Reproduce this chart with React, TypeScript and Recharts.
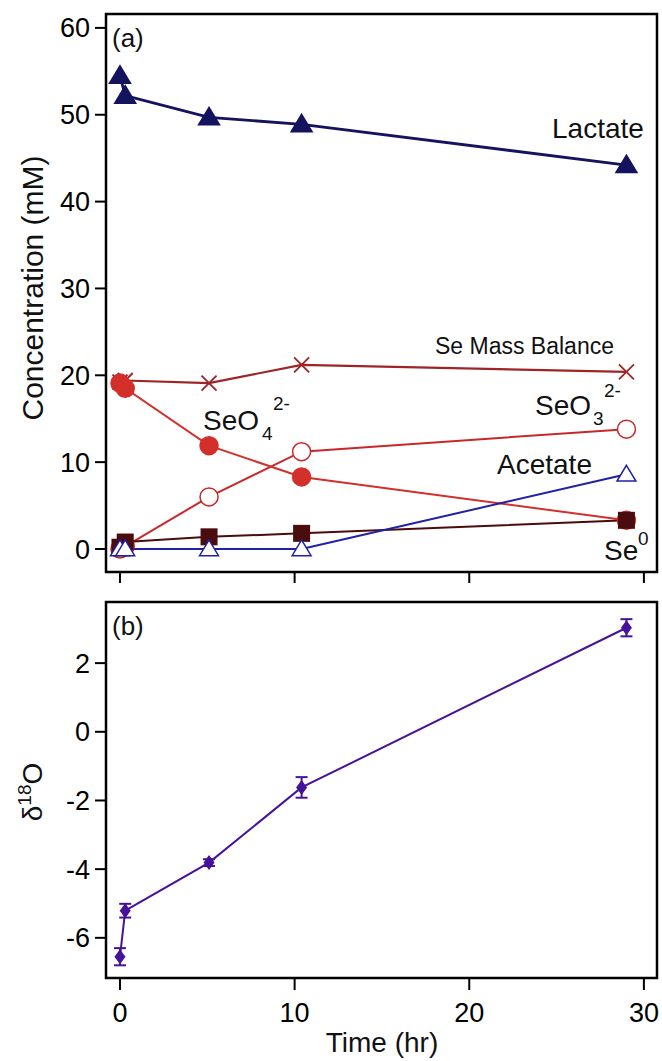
import React from 'react';
import { LineChart, Line, XAxis, YAxis, ReferenceArea, ErrorBar } from 'recharts';

// sampling times (hr)
const times = [0, 0.3, 5.1, 10.4, 29];

// panel (a) concentrations, mM
const lactate = [54.5, 52.2, 49.7, 48.9, 44.2];
const massBalance = [19.2, 19.4, 19.1, 21.2, 20.4];
const selenate = [19.1, 18.5, 11.9, 8.3, 3.3];
const selenite = [0, 0.3, 6.0, 11.2, 13.8];
const acetate = [0, 0, 0, 0, 8.6];
const seZero = [0.2, 0.8, 1.4, 1.8, 3.3];

// panel (b) delta 18O with error
const delta18O = [-6.55, -5.21, -3.81, -1.62, 3.03];
const delta18OErr = [0.25, 0.2, 0.1, 0.3, 0.25];

const timeTicks = [0, 10, 20, 30];
const concTicks = [0, 10, 20, 30, 40, 50, 60];
const deltaTicks = [-6, -4, -2, 0, 2];

const topData = times.map((t, i) => ({
  t,
  lactate: lactate[i],
  massBalance: massBalance[i],
  selenate: selenate[i],
  selenite: selenite[i],
  acetate: acetate[i],
  seZero: seZero[i],
}));

const bottomData = times.map((t, i) => ({ t, d18O: delta18O[i], err: delta18OErr[i] }));

const FONT = '"Liberation Sans", Arial, sans-serif';
const X_DOMAIN: [number, number] = [-0.8, 30.75];
const TOP_Y: [number, number] = [-2.65, 61.6];
const BOT_Y: [number, number] = [-7.17, 3.78];

const C = {
  lactate: '#15135e',
  mass: '#9e2426',
  selenate: '#d3302b',
  selenite: '#c8282a',
  acetate: '#2020a8',
  seZero: '#4a0c0c',
  delta: '#46129a',
};

// marker shapes
const triangle = (fill: string, stroke: string, s = 10, sw = 1.5) => (p: any) => {
  const { cx, cy, index } = p;
  if (cx == null || cy == null) return <g key={index} />;
  const pts = `${cx},${cy - s} ${cx + s * 1.05},${cy + s * 0.75} ${cx - s * 1.05},${cy + s * 0.75}`;
  return <polygon key={index} points={pts} fill={fill} stroke={stroke} strokeWidth={sw} />;
};

const circle = (fill: string, stroke: string, r = 9) => (p: any) => {
  const { cx, cy, index } = p;
  if (cx == null || cy == null) return <g key={index} />;
  return <circle key={index} cx={cx} cy={cy} r={r} fill={fill} stroke={stroke} strokeWidth={1.5} />;
};

const square = (fill: string, s = 8.5) => (p: any) => {
  const { cx, cy, index } = p;
  if (cx == null || cy == null) return <g key={index} />;
  return <rect key={index} x={cx - s} y={cy - s} width={s * 2} height={s * 2} fill={fill} />;
};

const cross = (stroke: string, s = 7.5) => (p: any) => {
  const { cx, cy, index } = p;
  if (cx == null || cy == null) return <g key={index} />;
  return (
    <g key={index} stroke={stroke} strokeWidth={1.8}>
      <line x1={cx - s} y1={cy - s} x2={cx + s} y2={cy + s} />
      <line x1={cx - s} y1={cy + s} x2={cx + s} y2={cy - s} />
    </g>
  );
};

const diamond = (fill: string) => (p: any) => {
  const { cx, cy, index } = p;
  if (cx == null || cy == null) return <g key={index} />;
  const pts = `${cx},${cy - 7.5} ${cx + 5.5},${cy} ${cx},${cy + 7.5} ${cx - 5.5},${cy}`;
  return <polygon key={index} points={pts} fill={fill} />;
};

const tickStyle = { fill: '#000', fontSize: 27, fontFamily: FONT };
const tickLine = { stroke: '#000', strokeWidth: 2 };

const App: React.FC = () => {
  return (
    <div style={{ position: 'absolute', left: 0, top: 0, width: 662, height: 1061, background: '#fff', fontFamily: FONT }}>
      <div style={{ position: 'absolute', left: 0, top: 0 }}>
        <LineChart width={662} height={600} data={topData} margin={{ top: 14, right: 5, bottom: 0, left: 0 }}>
          <XAxis
            type="number"
            dataKey="t"
            domain={X_DOMAIN}
            ticks={timeTicks}
            interval={0}
            allowDataOverflow
            axisLine={false}
            tickLine={tickLine}
            tickSize={11}
            tickFormatter={() => ''}
            height={28}
          />
          <YAxis
            type="number"
            domain={TOP_Y}
            ticks={concTicks}
            interval={0}
            allowDataOverflow
            width={106}
            axisLine={false}
            tickLine={tickLine}
            tickSize={11}
            tickMargin={5}
            tick={tickStyle}
          />
          <ReferenceArea x1={X_DOMAIN[0]} x2={X_DOMAIN[1]} y1={TOP_Y[0]} y2={TOP_Y[1]} fill="none" stroke="#000" strokeWidth={2.5} />
          <Line dataKey="lactate" stroke={C.lactate} strokeWidth={2.8} dot={triangle(C.lactate, C.lactate)} isAnimationActive={false} />
          <Line dataKey="massBalance" stroke={C.mass} strokeWidth={2.2} dot={cross(C.mass)} isAnimationActive={false} />
          <Line dataKey="selenite" stroke={C.selenite} strokeWidth={2} dot={circle('#fff', C.selenite)} isAnimationActive={false} />
          <Line dataKey="selenate" stroke={C.selenate} strokeWidth={2} dot={circle(C.selenate, C.selenate)} isAnimationActive={false} />
          <Line dataKey="seZero" stroke={C.seZero} strokeWidth={2} dot={square(C.seZero)} isAnimationActive={false} />
          <Line dataKey="acetate" stroke={C.acetate} strokeWidth={2} dot={triangle('#fff', C.acetate, 9)} isAnimationActive={false} />
        </LineChart>
      </div>
      <div style={{ position: 'absolute', left: 0, top: 590 }}>
        <LineChart width={662} height={471} data={bottomData} margin={{ top: 12, right: 5, bottom: 0, left: 0 }}>
          <XAxis
            type="number"
            dataKey="t"
            domain={X_DOMAIN}
            ticks={timeTicks}
            interval={0}
            allowDataOverflow
            axisLine={false}
            tickLine={tickLine}
            tickSize={12}
            tickMargin={13}
            tick={tickStyle}
            height={83}
          />
          <YAxis
            type="number"
            domain={BOT_Y}
            ticks={deltaTicks}
            interval={0}
            allowDataOverflow
            width={106}
            axisLine={false}
            tickLine={tickLine}
            tickSize={11}
            tickMargin={5}
            tick={tickStyle}
          />
          <ReferenceArea x1={X_DOMAIN[0]} x2={X_DOMAIN[1]} y1={BOT_Y[0]} y2={BOT_Y[1]} fill="none" stroke="#000" strokeWidth={2.5} />
          <Line dataKey="d18O" stroke={C.delta} strokeWidth={2} dot={diamond(C.delta)} isAnimationActive={false}>
            <ErrorBar dataKey="err" direction="y" width={6} stroke={C.delta} strokeWidth={2} />
          </Line>
        </LineChart>
      </div>
      <svg width={662} height={1061} style={{ position: 'absolute', left: 0, top: 0, pointerEvents: 'none' }} fontFamily={FONT} fill="#111">
        <text x={112} y={47} fontSize={26}>(a)</text>
        <text x={112} y={635} fontSize={26}>(b)</text>
        <text x={552} y={138} fontSize={28}>Lactate</text>
        <text x={435} y={354} fontSize={23}>Se Mass Balance</text>
        <text x={203} y={430} fontSize={28}>SeO</text>
        <text x={262} y={440} fontSize={19}>4</text>
        <text x={273} y={410} fontSize={19}>2-</text>
        <text x={535} y={415} fontSize={28}>SeO</text>
        <text x={593} y={425} fontSize={19}>3</text>
        <text x={604} y={397} fontSize={19}>2-</text>
        <text x={497} y={474} fontSize={28}>Acetate</text>
        <text x={604} y={560} fontSize={28}>Se</text>
        <text x={638} y={545} fontSize={19}>0</text>
        <text x={43} y={288} fontSize={30} textAnchor="middle" transform="rotate(-90 43 288)">Concentration (mM)</text>
        <text x={42} y={792} fontSize={28} textAnchor="middle" transform="rotate(-90 42 792)">
          δ<tspan dy={-11} fontSize={19}>18</tspan><tspan dy={11}>O</tspan>
        </text>
        <text x={382} y={1052} fontSize={28} textAnchor="middle">Time (hr)</text>
      </svg>
    </div>
  );
};

export default App;
